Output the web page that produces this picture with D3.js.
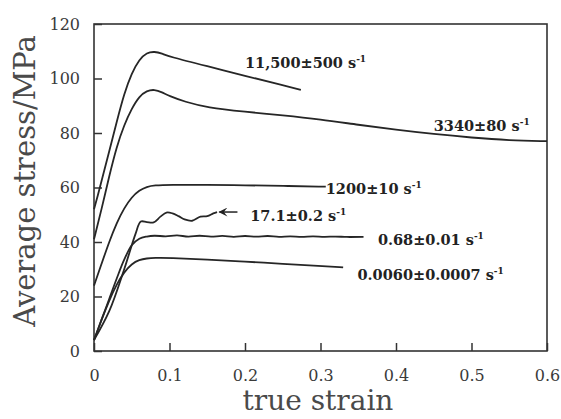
<!DOCTYPE html>
<html>
<head>
<meta charset="utf-8">
<script src="https://cdn.jsdelivr.net/npm/d3@7"></script>
<style>
  body { margin: 0; background: #fff; }
  svg { display: block; }
  .tick text { font-family: "DejaVu Serif", serif; font-size: 16px; fill: #3a3a3a; }
  .rate { font-family: "DejaVu Serif", serif; font-weight: bold; font-size: 14.5px; fill: #222; }
</style>
</head>
<body>
<div id="chart"></div>
<script>
var width = 561, height = 419;

// axis ticks
var strainTicks = [0, 0.1, 0.2, 0.3, 0.4, 0.5, 0.6];
var stressTicks = [0, 20, 40, 60, 80, 100, 120];

// curves (true strain, average stress in MPa)
var strain11500 = [0, 0.005, 0.01, 0.02, 0.03, 0.04, 0.05, 0.06, 0.07, 0.08, 0.09, 0.1, 0.15, 0.2, 0.25, 0.274];
var stress11500 = [52, 57, 62.5, 73, 84, 94.5, 102, 107, 109.5, 109.9, 109.2, 108, 104.5, 101, 97.5, 95.8];

var strain3340 = [0, 0.01, 0.02, 0.03, 0.04, 0.05, 0.06, 0.07, 0.08, 0.09, 0.1, 0.12, 0.15, 0.2, 0.25, 0.3, 0.35, 0.4, 0.45, 0.5, 0.55, 0.6];
var stress3340 = [41, 52, 64, 75, 83, 89, 93.5, 95.5, 96, 95, 93.5, 91.5, 89.3, 87.8, 86.5, 85, 83, 81.2, 79.6, 78.3, 77.3, 77];

var strain1200 = [0, 0.01, 0.02, 0.03, 0.04, 0.05, 0.06, 0.07, 0.08, 0.1, 0.15, 0.2, 0.25, 0.307];
var stress1200 = [24, 32, 40, 47, 52.5, 56.5, 59, 60.3, 60.8, 61, 61, 60.8, 60.6, 60.3];

var strain17 = [0, 0.02, 0.04, 0.055, 0.062, 0.07, 0.079, 0.088, 0.096, 0.104, 0.112, 0.12, 0.13, 0.141, 0.15, 0.158, 0.163];
var stress17 = [4, 14.5, 30, 43, 47.5, 47.3, 47.2, 49.3, 50.8, 50.5, 49.5, 48.3, 47.8, 49.3, 49.5, 50.5, 51];

var strain068 = [0, 0.01, 0.02, 0.03, 0.04, 0.05, 0.06, 0.07, 0.08, 0.095, 0.11, 0.125, 0.14, 0.155, 0.17, 0.185, 0.2, 0.215, 0.23, 0.245, 0.26, 0.275, 0.29, 0.305, 0.32, 0.335, 0.357];
var stress068 = [4, 11.5, 19, 26.5, 33.5, 38.8, 41.2, 42, 42.3, 42.1, 42.4, 42, 42.3, 41.95, 42.25, 41.9, 42.2, 41.95, 42.2, 41.9, 42.1, 41.85, 42.1, 41.9, 42, 41.85, 41.9];

var strain0006 = [0, 0.01, 0.02, 0.03, 0.04, 0.05, 0.06, 0.07, 0.08, 0.1, 0.15, 0.2, 0.25, 0.3, 0.33];
var stress0006 = [4, 11.5, 18.5, 24.5, 29, 32, 33.5, 34, 34.2, 34.2, 33.6, 32.8, 32, 31.2, 30.7];

var curves = [
  { xs: strain11500, ys: stress11500, wavy: false },
  { xs: strain3340, ys: stress3340, wavy: false },
  { xs: strain1200, ys: stress1200, wavy: false },
  { xs: strain17, ys: stress17, wavy: true },
  { xs: strain068, ys: stress068, wavy: true },
  { xs: strain0006, ys: stress0006, wavy: false }
];

// rate labels, anchored in data units
var rateNames = ["11,500\u00b1500 s", "3340\u00b180 s", "1200\u00b110 s", "17.1\u00b10.2 s", "0.68\u00b10.01 s", "0.0060\u00b10.0007 s"];
var rateAtStrain = [0.2, 0.45, 0.307, 0.207, 0.376, 0.349];
var rateAtStress = [104, 80.7, 57.6, 47.7, 38.9, 26];

var svg = d3.select("#chart").append("svg").attr("width", width).attr("height", height);

var x = d3.scaleLinear().domain([0, 0.6]).range([94, 547]);
var y = d3.scaleLinear().domain([0, 120]).range([351, 24]);

var xAxis = svg.append("g")
    .attr("transform", "translate(0," + y(0) + ")")
    .call(d3.axisBottom(x).tickValues(strainTicks).tickSize(-8).tickPadding(19)
      .tickFormat(function(d) { return d === 0 ? "0" : d3.format(".1f")(d); }));
xAxis.select(".domain").remove();

var yAxis = svg.append("g")
    .attr("transform", "translate(" + x(0) + ",0)")
    .call(d3.axisLeft(y).tickValues(stressTicks).tickSize(-8).tickPadding(14));
yAxis.select(".domain").remove();

svg.selectAll(".tick line").attr("stroke", "#333").attr("stroke-width", 1.5);

// frame
svg.append("rect")
    .attr("x", x(0)).attr("y", y(120))
    .attr("width", x(0.6) - x(0)).attr("height", y(0) - y(120))
    .attr("fill", "none").attr("stroke", "#333").attr("stroke-width", 1.6);

var smooth = d3.line()
    .x(function(d) { return x(d[0]); })
    .y(function(d) { return y(d[1]); })
    .curve(d3.curveBasis);
var wiggle = d3.line()
    .x(function(d) { return x(d[0]); })
    .y(function(d) { return y(d[1]); })
    .curve(d3.curveCatmullRom);

svg.selectAll(".curve")
  .data(curves)
  .enter().append("path")
    .attr("class", "curve")
    .attr("fill", "none")
    .attr("stroke", "#262626")
    .attr("stroke-width", 1.8)
    .attr("d", function(c) {
      var pts = c.xs.map(function(v, i) { return [v, c.ys[i]]; });
      return (c.wavy ? wiggle : smooth)(pts);
    });

// arrow pointing back at the end of the 17.1 curve
svg.append("defs").append("marker")
    .attr("id", "head")
    .attr("viewBox", "0 0 10 10")
    .attr("refX", 9).attr("refY", 5)
    .attr("markerWidth", 7).attr("markerHeight", 6)
    .attr("orient", "auto")
  .append("path")
    .attr("d", "M0,0 L10,5 L0,10 L4,5 Z")
    .attr("fill", "#222");

svg.append("line")
    .attr("x1", x(0.19)).attr("y1", y(51))
    .attr("x2", x(0.166)).attr("y2", y(51))
    .attr("stroke", "#222").attr("stroke-width", 1.5)
    .attr("marker-end", "url(#head)");

var labels = svg.selectAll(".rate")
  .data(rateNames)
  .enter().append("text")
    .attr("class", "rate")
    .attr("x", function(d, i) { return x(rateAtStrain[i]); })
    .attr("y", function(d, i) { return y(rateAtStress[i]); });
labels.append("tspan").text(function(d) { return d; });
labels.append("tspan")
    .attr("dy", -6)
    .attr("font-size", "9px")
    .text("-1");

// axis titles
svg.append("text")
    .attr("transform", "translate(35," + 181 + ") rotate(-90)")
    .attr("text-anchor", "middle")
    .style("font-family", "'DejaVu Serif', serif")
    .style("font-size", "29px")
    .style("fill", "#4a4a4a")
    .text("Average stress/MPa");

svg.append("text")
    .attr("x", 318).attr("y", 410)
    .attr("text-anchor", "middle")
    .style("font-family", "'DejaVu Serif', serif")
    .style("font-size", "28px")
    .style("fill", "#4a4a4a")
    .text("true strain");
</script>
</body>
</html>
